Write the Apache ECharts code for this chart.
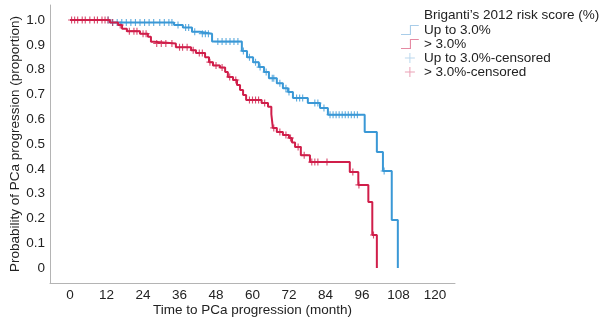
<!DOCTYPE html>
<html>
<head>
<meta charset="utf-8">
<script src="https://cdn.jsdelivr.net/npm/echarts@6/dist/echarts.min.js"></script>
<style>
  html, body { margin: 0; padding: 0; background: #fff; }
  #main { width: 600px; height: 323px; }
</style>
</head>
<body>
<div id="main"></div>
<script>
// event times (months) and survival after each event
var lowTimes = [0, 13.1, 34.2, 37.1, 40.1, 42.7, 46.7, 56.5, 58.2, 60.2, 62.1, 63.8, 65.4, 68.0, 70.0, 71.7, 73.3, 78.2, 82.2, 84.8, 96.9, 100.9, 102.9, 105.8, 107.8];
var lowSurv  = [1.0, 0.99, 0.98, 0.97, 0.953, 0.945, 0.913, 0.875, 0.85, 0.83, 0.81, 0.79, 0.765, 0.745, 0.725, 0.71, 0.685, 0.665, 0.645, 0.618, 0.548, 0.468, 0.391, 0.194, 0];
var highTimes = [0, 13.1, 15.8, 17.1, 18.7, 23.0, 25.6, 26.6, 27.6, 34.8, 39.8, 41.4, 44.4, 45.7, 47.0, 49.3, 51.0, 51.9, 53.6, 54.9, 55.9, 56.9, 57.9, 63.0, 65.1, 66.2, 66.7, 68.0, 70.0, 72.0, 73.0, 74.0, 75.9, 78.9, 92.0, 94.8, 98.1, 99.4, 100.9];
var highSurv  = [1.0, 0.99, 0.98, 0.965, 0.955, 0.945, 0.932, 0.912, 0.905, 0.89, 0.878, 0.867, 0.85, 0.83, 0.817, 0.808, 0.79, 0.77, 0.758, 0.738, 0.718, 0.698, 0.677, 0.665, 0.65, 0.62, 0.565, 0.548, 0.536, 0.524, 0.506, 0.488, 0.455, 0.427, 0.387, 0.335, 0.266, 0.133, 0];

// censored observations (months)
var lowCensor = [12.5, 14, 15.5, 17, 18.5, 20, 21.5, 23, 24.5, 26, 27.5, 29.5, 31, 32.5, 33.5, 35.5, 38, 39, 41, 43.5, 44.5, 45.5,
  48.6, 50, 51.3, 52.6, 53.9, 55.2, 57, 59, 61, 62.5, 64.5, 66.5, 67, 69, 71, 72, 74.5, 75.5, 76.5, 80.5, 81.5, 83.5,
  85.5, 86.5, 87.5, 88.5, 89.5, 90.5, 91.5, 92.5, 93.5, 94.5, 103.3];
var highCensor = [0.5, 1.5, 2.5, 4, 5, 6.5, 8, 9, 10.5, 11.5, 12.5, 14, 16.5, 19.5, 21, 22, 24, 25, 28.5, 30, 31.5, 33.5,
  36, 37, 38.5, 40.5, 42.5, 43.5, 46, 48, 50, 52.5, 54.5, 59, 60, 61, 62, 64, 67, 69, 71, 72.5, 75, 77, 79.5, 80.5,
  81.5, 84.5, 93, 95, 99.8];

var xTicks = [0, 12, 24, 36, 48, 60, 72, 84, 96, 108, 120];
var yTicks = [0, 0.1, 0.2, 0.3, 0.4, 0.5, 0.6, 0.7, 0.8, 0.9, 1.0];

var blue = '#3a98d6';
var red = '#d01e4a';
var plusIcon = 'path://M0,4.5L10,4.5L10,5.5L0,5.5Z M4.5,0L5.5,0L5.5,10L4.5,10Z';
var plusMark = 'path://M0,4.2L10,4.2L10,5.8L0,5.8Z M4.2,0L5.8,0L5.8,10L4.2,10Z';
var stepIcon = 'path://M0,9L8,9L8,1L16,1L16,2L9,2L9,10L0,10Z';

function zip(t, s) {
  return t.map(function (v, i) { return [v, s[i]]; });
}
function stepAt(t, s, x) {
  var v = 1;
  for (var i = 0; i < t.length; i++) if (t[i] <= x) v = s[i];
  return v;
}
function censorPts(c, t, s) {
  return c.map(function (x) { return [x, stepAt(t, s, x)]; });
}

var chart = echarts.init(document.getElementById('main'), null, { renderer: 'canvas' });
var font = 'Liberation Sans, Arial, sans-serif';

chart.setOption({
  animation: false,
  textStyle: { fontFamily: font },
  title: {
    text: 'Briganti\u2019s 2012 risk score (%)',
    left: 424, top: 8, padding: 0,
    textStyle: { fontSize: 13.5, fontWeight: 'normal', color: '#222', fontFamily: font }
  },
  legend: {
    orient: 'vertical',
    left: 401, top: 23, padding: 0,
    itemWidth: 18, itemHeight: 10, itemGap: 0,
    textStyle: { fontSize: 13.5, color: '#222', fontFamily: font, lineHeight: 13.5 },
    data: [
      { name: 'Up to 3.0%', icon: stepIcon, itemStyle: { color: '#a9cde9' } },
      { name: '> 3.0%', icon: stepIcon, itemStyle: { color: '#e58aa3' } },
      { name: 'Up to 3.0%-censored', icon: plusIcon, itemStyle: { color: '#a9cde9' } },
      { name: '> 3.0%-censored', icon: plusIcon, itemStyle: { color: '#e58aa3' } }
    ]
  },
  grid: { left: 50, right: 145, top: 5, bottom: 40, containLabel: false, outerBoundsMode: 'none' },
  xAxis: {
    type: 'value', min: -6.6, max: 126.6,
    name: 'Time to PCa progression (month)',
    nameLocation: 'middle', nameGap: 20, nameMoveOverlap: false,
    nameTextStyle: { fontSize: 13.5, color: '#222' },
    axisLine: { onZero: false, lineStyle: { color: '#b4b4b4', width: 1 } },
    axisTick: { show: false },
    splitLine: { show: false },
    axisLabel: { customValues: xTicks, fontSize: 13.5, color: '#222', margin: 5 }
  },
  yAxis: {
    type: 'value', min: -0.0605, max: 1.0605,
    name: 'Probability of PCa progression (proportion)',
    nameLocation: 'middle', nameGap: 28, nameMoveOverlap: false,
    nameTextStyle: { fontSize: 13.5, color: '#222' },
    axisLine: { show: true, onZero: false, lineStyle: { color: '#b4b4b4', width: 1 } },
    axisTick: { show: false },
    splitLine: { show: false },
    axisLabel: {
      customValues: yTicks, fontSize: 13.5, color: '#222', margin: 5,
      formatter: function (v) { return v === 0 ? '0' : v.toFixed(1); }
    }
  },
  series: [
    {
      name: 'Up to 3.0%', type: 'line', step: 'end', symbol: 'none',
      lineStyle: { color: blue, width: 2 }, itemStyle: { color: blue },
      data: zip(lowTimes, lowSurv)
    },
    {
      name: 'Up to 3.0%-censored', type: 'scatter', symbol: plusMark, symbolSize: 7,
      itemStyle: { color: blue },
      data: censorPts(lowCensor, lowTimes, lowSurv)
    },
    {
      name: '> 3.0%', type: 'line', step: 'end', symbol: 'none',
      lineStyle: { color: red, width: 2 }, itemStyle: { color: red },
      data: zip(highTimes, highSurv)
    },
    {
      name: '> 3.0%-censored', type: 'scatter', symbol: plusMark, symbolSize: 7,
      itemStyle: { color: red },
      data: censorPts(highCensor, highTimes, highSurv)
    }
  ]
});
</script>
</body>
</html>
